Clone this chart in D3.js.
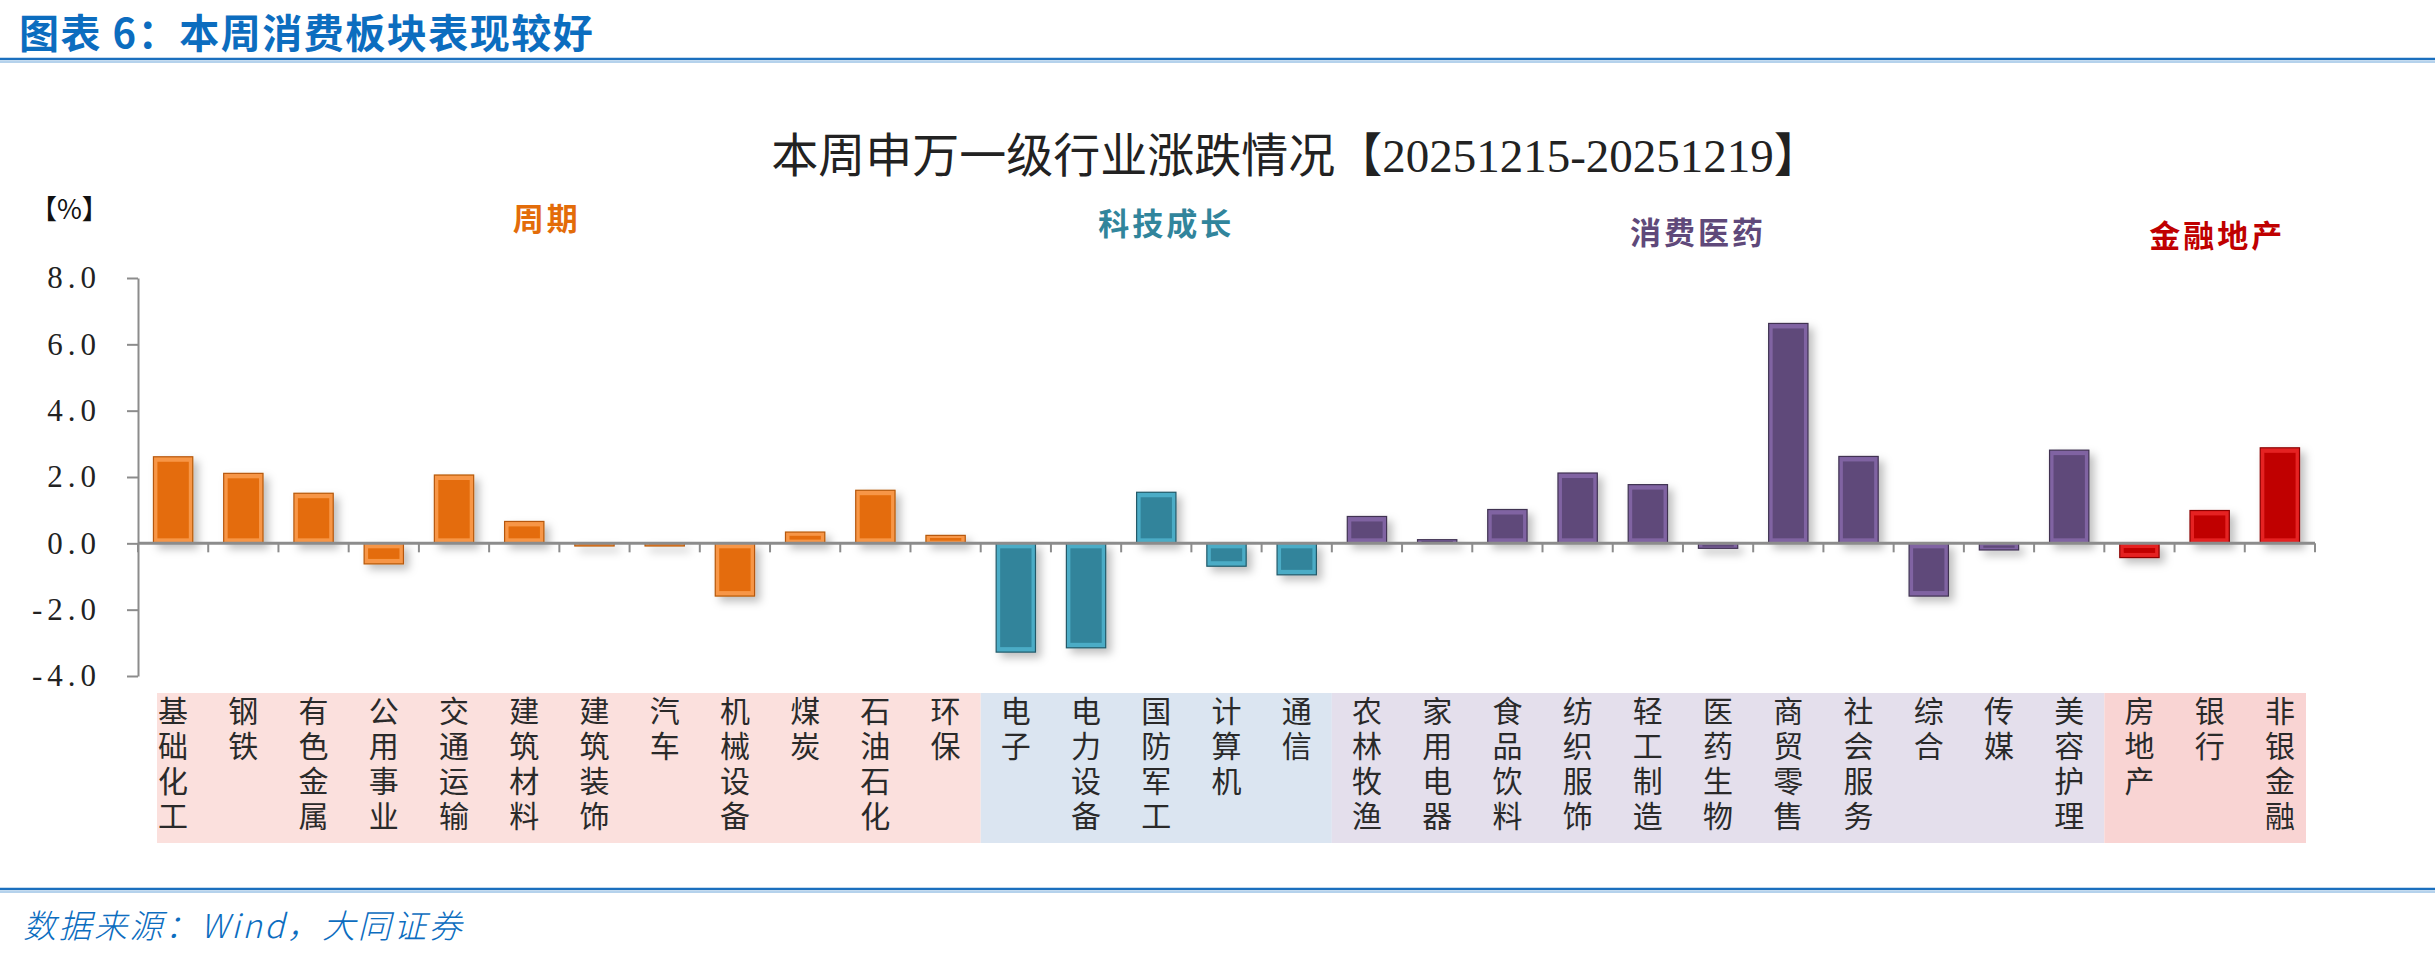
<!DOCTYPE html>
<html>
<head>
<meta charset="utf-8">
<script src="https://cdn.jsdelivr.net/npm/d3@7"></script>
<style>
    body { margin: 0; background: #fff; }
    svg { display: block; }
    .vlabel { writing-mode: vertical-rl; text-orientation: upright; }
</style>
</head>
<body>
<svg id="canvas" width="2435" height="958"></svg>
<script>
/** Chart data */
const categories = ['基础化工', '钢铁', '有色金属', '公用事业', '交通运输', '建筑材料', '建筑装饰', '汽车', '机械设备', '煤炭', '石油石化', '环保',
    '电子', '电力设备', '国防军工', '计算机', '通信',
    '农林牧渔', '家用电器', '食品饮料', '纺织服饰', '轻工制造', '医药生物', '商贸零售', '社会服务', '综合', '传媒', '美容护理',
    '房地产', '银行', '非银金融'];
const values = [2.61, 2.11, 1.51, -0.62, 2.06, 0.66, -0.08, -0.08, -1.59, 0.34, 1.60, 0.24,
    -3.28, -3.15, 1.54, -0.69, -0.95,
    0.81, 0.11, 1.02, 2.12, 1.77, -0.15, 6.63, 2.62, -1.59, -0.20, 2.81,
    -0.43, 0.99, 2.88];
const groupNames = ['周期', '科技成长', '消费医药', '金融地产'];
const groupSizes = [12, 5, 11, 3];
const yTicks = [-4, -2, 0, 2, 4, 6, 8];

/** Styles per group */
const groupColors = [
    { base: '#E46C0A', light: '#F79646', dark: '#B65708', text: '#E36C09', bg: '#FBE0DD' },
    { base: '#31849B', light: '#4BACC6', dark: '#215968', text: '#31859C', bg: '#DBE5F1' },
    { base: '#5F497A', light: '#8064A2', dark: '#3F3151', text: '#5F497A', bg: '#E4DFEC' },
    { base: '#C00000', light: '#E52020', dark: '#8B0000', text: '#C00000', bg: '#F9D4D3' }
];
/** Group title placement (offset from group centre, baseline y) */
const groupLabelDx = [-22, 10, -20, 12];
const groupLabelY = [230, 235, 244, 247];

const svg = d3.select('#canvas');
const blue = '#0C6DBF';

/** Group index of each category */
const groupOf = [];
groupSizes.forEach((n, g) => { for (let i = 0; i < n; i++) groupOf.push(g); });

/** Scales */
const x = d3.scaleBand()
    .domain(categories)
    .range([138, 2315])
    .paddingInner(0.44)
    .paddingOuter(0.22);

const y = d3.scaleLinear()
    .domain([-4, 8])
    .range([676, 278]);

/** Page header */
svg.append('text')
    .attr('x', 19).attr('y', 48)
    .attr('font-family', 'Noto Sans CJK SC').attr('font-weight', 'bold')
    .attr('font-size', 40).attr('letter-spacing', 1.5).attr('fill', blue)
    .text('图表 6：本周消费板块表现较好');

svg.append('line').attr('x1', 0).attr('x2', 2435).attr('y1', 59).attr('y2', 59)
    .attr('stroke', '#1B6FBE').attr('stroke-width', 2.5);
svg.append('line').attr('x1', 0).attr('x2', 2435).attr('y1', 62).attr('y2', 62)
    .attr('stroke', '#9DC3E6').attr('stroke-width', 1.5);

/** Chart title */
svg.append('text')
    .attr('x', 1296).attr('y', 172)
    .attr('text-anchor', 'middle')
    .attr('font-family', '"Liberation Serif", "Noto Sans CJK SC"')
    .attr('font-size', 47).attr('fill', '#222')
    .text('本周申万一级行业涨跌情况【20251215-20251219】');

/** Unit label */
svg.append('text')
    .attr('x', 30).attr('y', 219)
    .attr('font-family', '"Noto Sans CJK SC"')
    .attr('font-size', 27).attr('fill', '#111')
    .text('【%】');

/** Drop shadow for bars */
const defs = svg.append('defs');
defs.append('filter')
    .attr('id', 'shadow')
    .attr('x', '-30%').attr('y', '-30%').attr('width', '160%').attr('height', '160%')
    .append('feDropShadow')
    .attr('dx', 5).attr('dy', 5).attr('stdDeviation', 4)
    .attr('flood-color', '#000').attr('flood-opacity', 0.25);

/** Group ranges along x */
let start = 0;
const groups = groupNames.map((name, g) => {
    const first = categories[start];
    const last = categories[start + groupSizes[g] - 1];
    start += groupSizes[g];
    return {
        name: name,
        g: g,
        x0: x(first) - x.step() * x.paddingInner() / 2,
        x1: x(last) + x.bandwidth() + x.step() * x.paddingInner() / 2
    };
});
groups[0].x0 += 19;
groups[groups.length - 1].x1 -= 9;

/** Category label backgrounds */
svg.append('g').selectAll('rect')
    .data(groups)
    .enter()
    .append('rect')
    .attr('x', (d) => d.x0)
    .attr('y', 693)
    .attr('width', (d) => d.x1 - d.x0)
    .attr('height', 150)
    .attr('fill', (d) => groupColors[d.g].bg);

/** Group titles */
svg.append('g').selectAll('text')
    .data(groups)
    .enter()
    .append('text')
    .attr('x', (d) => (d.x0 + d.x1) / 2 + groupLabelDx[d.g])
    .attr('y', (d) => groupLabelY[d.g])
    .attr('text-anchor', 'middle')
    .attr('font-family', '"Noto Sans CJK SC"').attr('font-weight', 'bold')
    .attr('font-size', 31).attr('letter-spacing', 3)
    .attr('fill', (d) => groupColors[d.g].text)
    .text((d) => d.name);

/** Y axis */
const yAxis = svg.append('g')
    .attr('transform', `translate(${x.range()[0]},0)`)
    .call(d3.axisLeft(y).tickValues(yTicks).tickSize(11).tickSizeOuter(0)
        .tickFormat((d) => d.toFixed(1)));
yAxis.select('.domain').attr('stroke', '#8C8C8C').attr('stroke-width', 2);
yAxis.selectAll('.tick line').attr('stroke', '#8C8C8C').attr('stroke-width', 2);
yAxis.selectAll('.tick text')
    .attr('x', -37)
    .attr('font-family', '"Liberation Serif"')
    .attr('font-size', 31)
    .attr('letter-spacing', 5)
    .attr('fill', '#222');

/** Bars */
const bars = svg.append('g')
    .attr('filter', 'url(#shadow)')
    .selectAll('g')
    .data(values)
    .enter()
    .append('g');

bars.append('rect')
    .attr('x', (d, i) => x(categories[i]))
    .attr('y', (d) => y(Math.max(0, d)))
    .attr('width', x.bandwidth())
    .attr('height', (d) => Math.abs(y(d) - y(0)))
    .attr('fill', (d, i) => groupColors[groupOf[i]].light)
    .attr('stroke', (d, i) => groupColors[groupOf[i]].dark)
    .attr('stroke-width', 1.2);

bars.append('rect')
    .attr('x', (d, i) => x(categories[i]) + 4)
    .attr('y', (d) => y(Math.max(0, d)) + Math.min(5, Math.abs(y(d) - y(0)) / 3))
    .attr('width', x.bandwidth() - 8)
    .attr('height', (d) => Math.max(0, Math.abs(y(d) - y(0)) - 2 * Math.min(5, Math.abs(y(d) - y(0)) / 3)))
    .attr('fill', (d, i) => groupColors[groupOf[i]].base);

/** X axis at zero */
const xAxis = svg.append('g');
xAxis.append('line')
    .attr('x1', x.range()[0]).attr('x2', x.range()[1])
    .attr('y1', y(0)).attr('y2', y(0))
    .attr('stroke', '#8C8C8C').attr('stroke-width', 3);
xAxis.selectAll('.xtick')
    .data(d3.range(categories.length + 1))
    .enter()
    .append('line')
    .attr('class', 'xtick')
    .attr('x1', (i) => x.range()[0] + i * x.step())
    .attr('x2', (i) => x.range()[0] + i * x.step())
    .attr('y1', y(0)).attr('y2', y(0) + 9)
    .attr('stroke', '#8C8C8C').attr('stroke-width', 2);

/** Vertical category labels, one character per row */
const labelChars = [];
categories.forEach((cat) => {
    [...cat].forEach((c, j) => labelChars.push({ cat: cat, c: c, j: j }));
});

svg.append('g').selectAll('text')
    .data(labelChars)
    .enter()
    .append('text')
    .attr('class', 'vlabel')
    .attr('x', (d) => x(d.cat) + x.bandwidth() / 2)
    .attr('y', (d) => 696 + d.j * 35)
    .attr('font-family', '"Noto Sans CJK SC"')
    .attr('font-size', 30)
    .attr('fill', '#2a2a2a')
    .text((d) => d.c);

/** Footer */
svg.append('line').attr('x1', 0).attr('x2', 2435).attr('y1', 889).attr('y2', 889)
    .attr('stroke', '#1B6FBE').attr('stroke-width', 2.5);
svg.append('line').attr('x1', 0).attr('x2', 2435).attr('y1', 892).attr('y2', 892)
    .attr('stroke', '#9DC3E6').attr('stroke-width', 1.5);

svg.append('text')
    .attr('x', 23).attr('y', 938)
    .attr('font-family', '"Noto Sans CJK SC"').attr('font-weight', 300)
    .attr('font-style', 'italic')
    .attr('font-size', 33).attr('letter-spacing', 2.5).attr('fill', blue)
    .text('数据来源：Wind，大同证券');
</script>
</body>
</html>
